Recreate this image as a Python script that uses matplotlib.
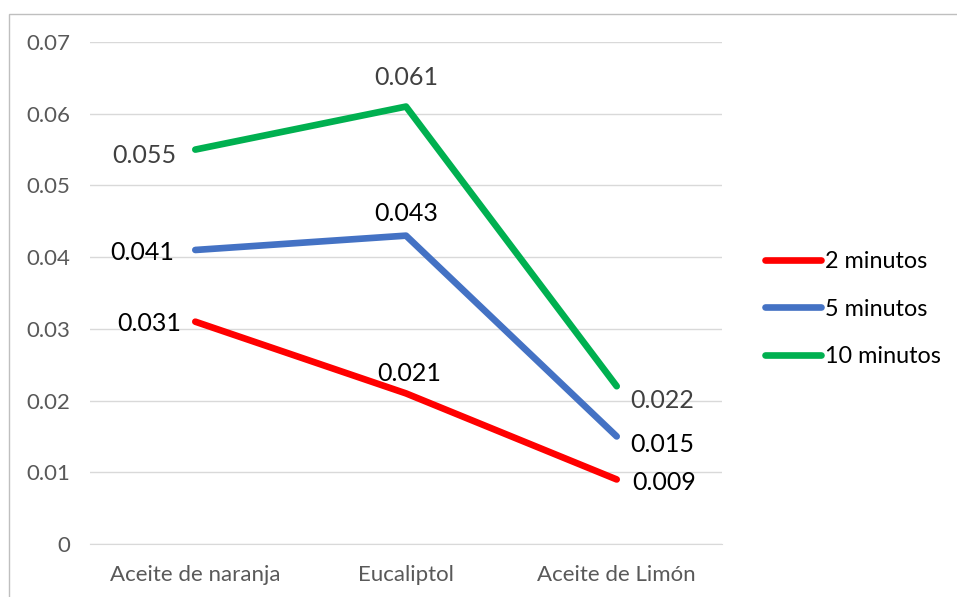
import matplotlib.pyplot as plt
from matplotlib.patches import Rectangle

plt.rcParams['font.family'] = ['Lato', 'DejaVu Sans']

categories = ['Aceite de naranja', 'Eucaliptol', 'Aceite de Limón']
series_names = ['2 minutos', '5 minutos', '10 minutos']
values_2min = [0.031, 0.021, 0.009]
values_5min = [0.041, 0.043, 0.015]
values_10min = [0.055, 0.061, 0.022]
y_ticks = [0, 0.01, 0.02, 0.03, 0.04, 0.05, 0.06, 0.07]
y_tick_labels = ['0', '0.01', '0.02', '0.03', '0.04', '0.05', '0.06', '0.07']

colors = ['#FF0000', '#4472C4', '#00B050']
label_colors = ['black', 'black', '#404040']
# label offsets in points (dx, dy) for each category, per series
offsets = [
    [(-33, -1), (2, 14), (34, -2)],
    [(-38, -2), (0, 16), (33, -6)],
    [(-37, -4), (0, 21), (33, -10)],
]

fig = plt.figure(figsize=(9.57, 5.97), dpi=100)
ax = fig.add_axes([0.094, 0.0888, 0.6605, 0.8408])

# chart border (only left and top visible in the crop)
fig.patches.append(Rectangle((9 / 957, -0.1), 1.2, 1.1 - 14 / 597,
                             transform=fig.transFigure, fill=False,
                             edgecolor='#bfbfbf', linewidth=1))

x = list(range(len(categories)))
all_values = [values_2min, values_5min, values_10min]
for i, vals in enumerate(all_values):
    ax.plot(x, vals, color=colors[i], linewidth=4.8, solid_capstyle='round',
            label=series_names[i], zorder=3)
    for j, v in enumerate(vals):
        ax.annotate('{:.3f}'.format(v), (x[j], v), xytext=offsets[i][j],
                    textcoords='offset points', ha='center', va='center',
                    fontsize=18, color=label_colors[i])

ax.set_xlim(-0.5, 2.5)
ax.set_ylim(0, 0.07)
ax.set_yticks(y_ticks)
ax.set_yticklabels(y_tick_labels)
ax.set_xticks(x)
ax.set_xticklabels(categories)
ax.tick_params(axis='both', length=0, labelsize=16, colors='#595959')
ax.tick_params(axis='y', pad=14)
ax.tick_params(axis='x', pad=15)
ax.grid(axis='y', color='#d9d9d9', linewidth=1)
ax.set_axisbelow(True)
for side in ['left', 'right', 'top']:
    ax.spines[side].set_visible(False)
ax.spines['bottom'].set_color('#d9d9d9')

leg = ax.legend(loc='center left', bbox_to_anchor=(1.034, 0.468), frameon=False,
                fontsize=16.8, handlelength=2.4, handletextpad=0.17,
                labelspacing=1.15)

fig.savefig('out.png', dpi=100)
